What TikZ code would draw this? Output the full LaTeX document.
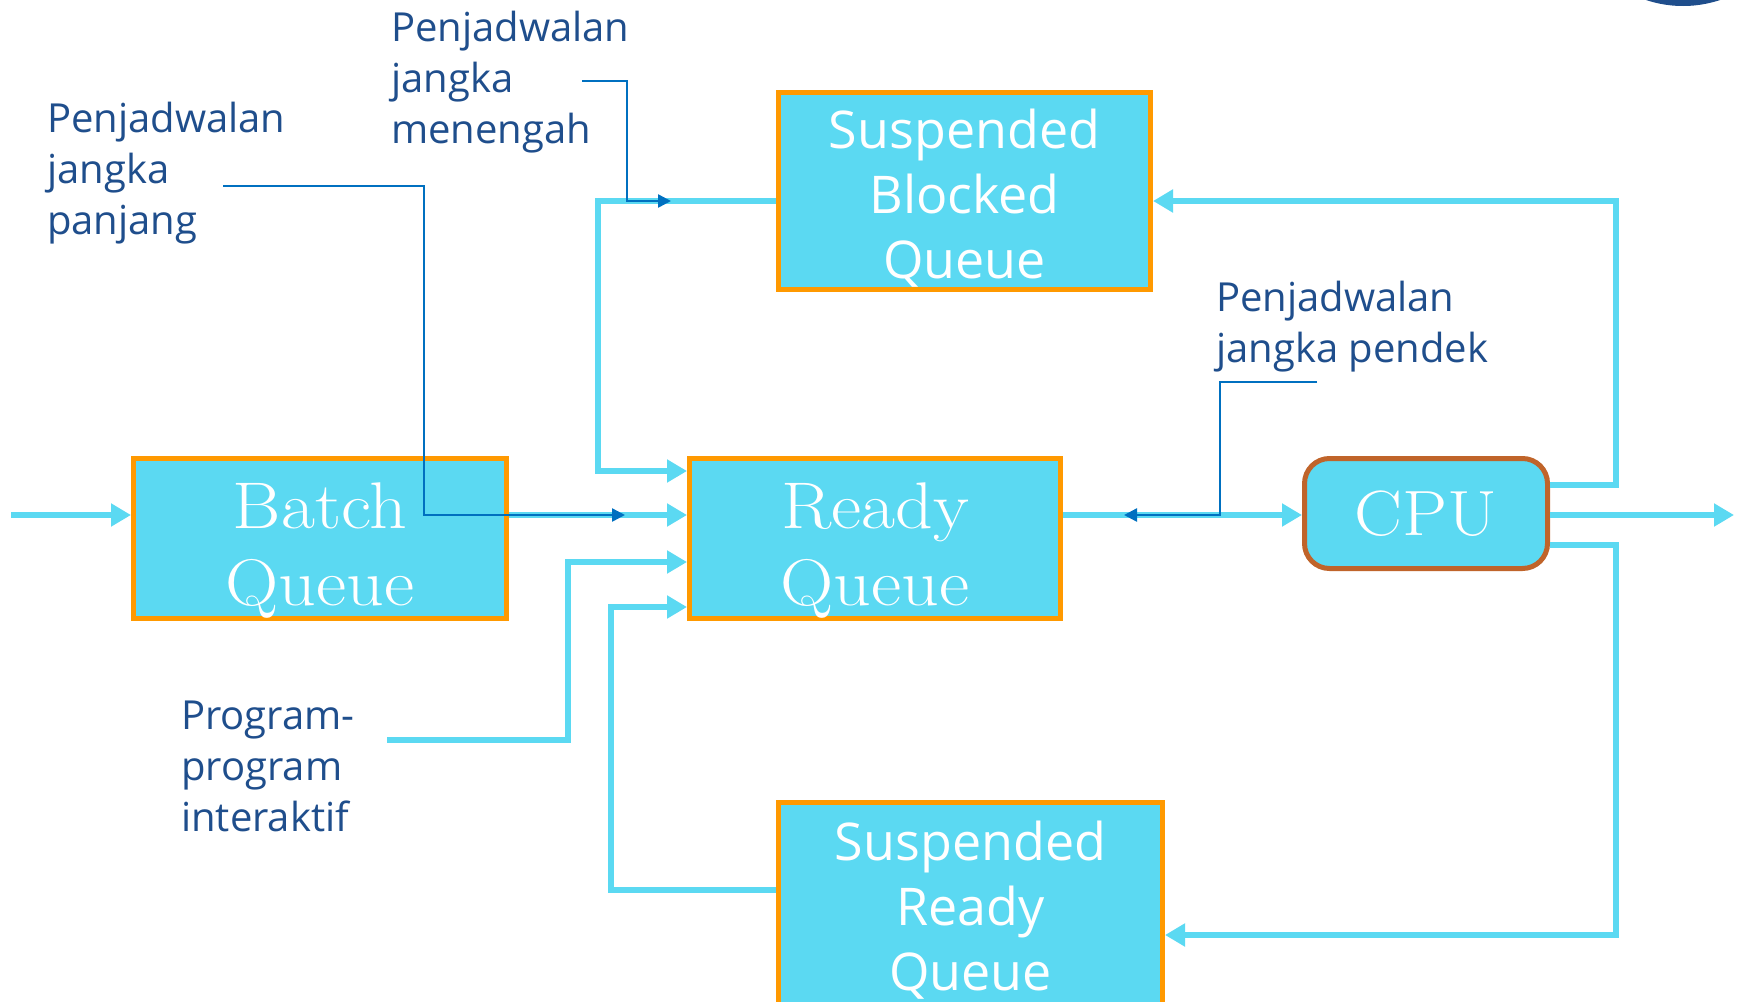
\documentclass[tikz,border=0pt]{standalone}
\usepackage{fontspec}
\newfontfamily\comic{Open Sans}
\newfontfamily\boxserif{Latin Modern Roman}[FakeStretch=1.12]
\usetikzlibrary{arrows.meta,calc}
\definecolor{qfill}{HTML}{5BD9F2}
\definecolor{qborder}{HTML}{FF9900}
\definecolor{cpuborder}{HTML}{C0642A}
\definecolor{anno}{HTML}{0070C0}
\definecolor{txtblue}{HTML}{1F4E8C}
\begin{document}
\begin{tikzpicture}[x=1pt,y=-1pt,
 queue/.style={draw=qborder, line width=5pt, fill=qfill, text=white, inner sep=0pt, align=center},
 serifq/.style={font=\boxserif\fontsize{66}{77}\selectfont},
 comicq/.style={font=\comic\fontsize{52}{65}\selectfont},
 cpubox/.style={draw=cpuborder, line width=5pt, fill=qfill, rounded corners=25pt, text=white, inner sep=0pt, font=\boxserif\fontsize{64}{75}\selectfont},
 flow/.style={draw=qfill, line width=6pt},
 flowarrow/.style={flow, -{Triangle[length=20pt,width=22pt]}},
 sched/.style={draw=anno, line width=2.5pt, -{Triangle[length=13pt,width=13pt]}},
 lbl/.style={text=txtblue, font=\comic\fontsize{40}{51}\selectfont, align=left, inner sep=0pt, anchor=north west}]
\useasboundingbox (0,0) rectangle (1745,1001);
\clip (0,0) rectangle (1745,1001);
\fill[white] (0,0) rectangle (1745,1001);
\fill[txtblue] (1683,-111) circle (117pt);

% boxes
\node[queue, minimum width=373pt, minimum height=160pt] (batch) at (320,538.5) {};
\node[queue, minimum width=371pt, minimum height=160pt] (ready) at (875,538.5) {};
\node[cpubox, minimum width=243pt, minimum height=110pt] (cpu) at (1426,513.5) {CPU};
\node[queue, comicq, minimum width=372pt, minimum height=197pt] (sb) at (964.5,191) {};
\node[queue, comicq, minimum width=384pt, minimum height=209pt] (sr) at (970.5,907) {};
% box texts
\node[serifq, text=white, align=center, inner sep=0pt, yshift=-12pt] (batcht) at (batch.center) {Batch\\Queue};
\node[serifq, text=white, align=center, inner sep=0pt, yshift=-12pt] (readyt) at (ready.center) {Ready\\Queue};
\node[comicq, text=white, align=center, inner sep=0pt, yshift=-7pt] (sbt) at (sb.center) {Suspended\\Blocked\\Queue};
\node[comicq, text=white, align=center, inner sep=0pt, yshift=-3pt] (srt) at (sr.center) {Suspended\\Ready\\Queue};

% helper coordinates
\coordinate (yA) at (0,471);
\coordinate (yB) at (0,515);
\coordinate (yC) at (0,562);
\coordinate (yD) at (0,607);
\coordinate (in) at (11,515);
\coordinate (out) at (1734,515);
\coordinate (sbL) at (598,201);
\coordinate (srL) at (611,890);
\coordinate (ia) at (387,740);
\coordinate (cu) at (1616,485);
\coordinate (cd) at (1616,545);
\coordinate (srR) at (0,935);

% flows
\draw[flowarrow] (in) -- (batch.west |- in);
\draw[flowarrow] (batch.east |- yB) -- (ready.west |- yB);
\draw[flowarrow] (sb.west |- sbL) -- (sbL) |- (ready.west |- yA);
\draw[flowarrow] (ia) -| (568,562) -- (ready.west |- yC);
\draw[flowarrow] (sr.west |- srL) -- (srL) |- (ready.west |- yD);
\draw[flowarrow] (ready.east |- yB) -- (cpu.west |- yB);
\draw[flowarrow] (cpu.east |- yB) -- (out);
\draw[flowarrow] (cpu.east |- cu) -- (cu) |- (sb.east |- sbL);
\draw[flowarrow] (cpu.east |- cd) -- (cd) |- (sr.east |- srR);

% scheduler annotation lines
\coordinate (lpS) at (223,186);
\coordinate (lpE) at (625,515);
\coordinate (lmS) at (582,81);
\coordinate (lmE) at (671,201);
\coordinate (lsS) at (1317,382);
\coordinate (lsE) at (1124,515);
\draw[sched] (lpS) -| (424,515) -- (lpE);
\draw[sched] (lmS) -| (627,201) -- (lmE);
\draw[sched] (lsS) -| (1220,515) -- (lsE);

% labels
\node[lbl] (tlp) at (47,102) {Penjadwalan\\jangka\\panjang};
\node[lbl] (tlm) at (391,11) {Penjadwalan\\jangka\\menengah};
\node[lbl] (tls) at (1216,281) {Penjadwalan\\jangka pendek};
\node[lbl] (tpi) at (181,701) {Program-\\program\\interaktif};
\end{tikzpicture}
\end{document}
